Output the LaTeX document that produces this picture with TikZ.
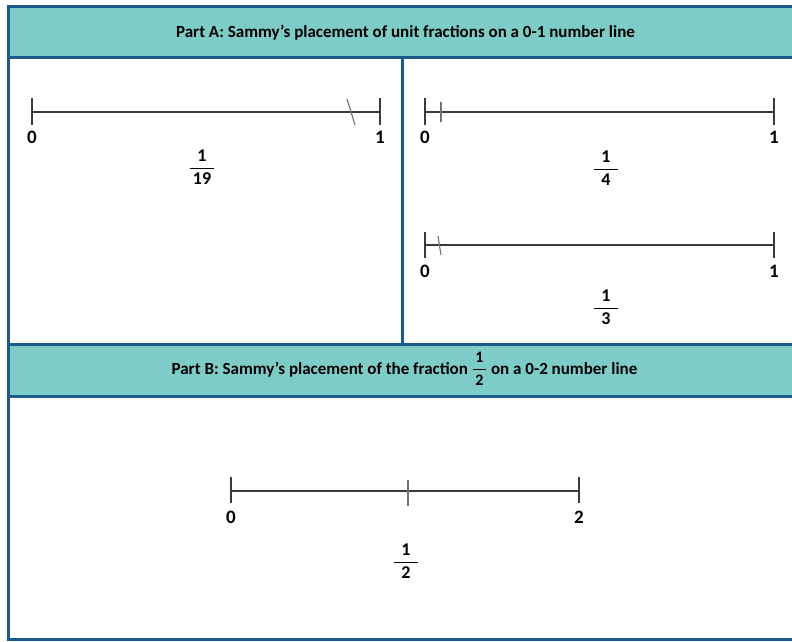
\documentclass[tikz,border=0pt]{standalone}
\usepackage{amsmath}
\usepackage{fontspec}
\setmainfont{Carlito}
\usetikzlibrary{positioning}
\definecolor{headteal}{HTML}{7ECCC7}
\definecolor{frameblue}{HTML}{1D5A8C}
\definecolor{lineink}{HTML}{3A3A3A}
\definecolor{markgray}{HTML}{707070}

% fraction with a fixed bar
\newcommand{\fr}[2]{$\genfrac{}{}{1.1pt}{0}{\makebox[24pt]{#1}}{\makebox[24pt]{#2}}$}
\newcommand{\hfr}[2]{$\genfrac{}{}{1pt}{0}{\makebox[13pt]{#1}}{\makebox[13pt]{#2}}$}

\begin{document}
\begin{tikzpicture}[
  x=1pt, y=-1pt,
  frame/.style={draw=frameblue, line width=3pt},
  header/.style={fill=headteal},
  headtxt/.style={font=\fontsize{17}{20}\selectfont\bfseries, inner sep=0pt, anchor=base},
  nline/.style={draw=lineink, line width=1.1pt},
  slashmark/.style={draw=markgray, line width=1.1pt},
  numlbl/.style={font=\fontsize{19}{22}\selectfont\bfseries, inner sep=0pt},
  fraclbl/.style={font=\fontsize{18}{21}\selectfont\bfseries, inner sep=0pt}
]
  \useasboundingbox (0,0) rectangle (792,641);
  \fill[white] (0,0) rectangle (792,641);

  % Header bars
  \fill[header] (8,6.5) rectangle (812,57);
  \fill[header] (8,344) rectangle (812,396);
  \node[headtxt] (hdra) at (405.5,37) {Part A: Sammy’s placement of unit fractions on a 0-1 number line};
  \node[headtxt] (hdrb) at (404.5,374) {Part B: Sammy’s placement of the fraction {\fontsize{16}{16}\selectfont\hfr{1}{2}} on a 0-2 number line};

  % Frame and dividers
  \draw[frame] (8,57) -- (812,57);
  \draw[frame] (8,344) -- (812,344);
  \draw[frame] (8,396) -- (812,396);
  \draw[frame] (402.5,57) -- (402.5,344);
  \draw[frame] (8,6.5) rectangle (812,639.5);

  % Part A, left: 1/19
  \coordinate (a0) at (32,112);
  \coordinate (a1) at (380,112);
  \coordinate (a19) at (351,112);
  \draw[nline] (a0) -- (a1);
  \draw[nline] ([yshift=14pt]a0) -- ([yshift=-13pt]a0);
  \draw[nline] ([yshift=14pt]a1) -- ([yshift=-13pt]a1);
  \draw[slashmark] ([shift={(-4,-13)}]a19) -- ([shift={(4,13)}]a19);
  \node[numlbl, below=19pt of a0] (a0lbl) {0};
  \node[numlbl, below=19pt of a1] (a1lbl) {1};
  \node[fraclbl] (f19) at (202,167) {\fr{1}{19}};

  % Part A, right top: 1/4
  \coordinate (b0) at (425,112);
  \coordinate (b1) at (774,112);
  \coordinate (b4) at (441,112);
  \draw[nline] (b0) -- (b1);
  \draw[nline] ([yshift=14pt]b0) -- ([yshift=-13pt]b0);
  \draw[nline] ([yshift=14pt]b1) -- ([yshift=-13pt]b1);
  \draw[slashmark] ([yshift=10pt]b4) -- ([yshift=-10pt]b4);
  \node[numlbl, below=19pt of b0] (b0lbl) {0};
  \node[numlbl, below=19pt of b1] (b1lbl) {1};
  \node[fraclbl] (f4) at (606,168) {\fr{1}{4}};

  % Part A, right bottom: 1/3
  \coordinate (c0) at (425,245);
  \coordinate (c1) at (774,245);
  \coordinate (c3) at (439.5,245);
  \draw[nline] (c0) -- (c1);
  \draw[nline] ([yshift=13pt]c0) -- ([yshift=-13pt]c0);
  \draw[nline] ([yshift=13pt]c1) -- ([yshift=-13pt]c1);
  \draw[slashmark] ([shift={(-1.5,-9)}]c3) -- ([shift={(1.5,10)}]c3);
  \node[numlbl, below=20pt of c0] (c0lbl) {0};
  \node[numlbl, below=20pt of c1] (c1lbl) {1};
  \node[fraclbl] (f3) at (606,307) {\fr{1}{3}};

  % Part B: 1/2 on 0-2
  \coordinate (d0) at (231,491);
  \coordinate (d2) at (579,491);
  \coordinate (dh) at (408,491);
  \draw[nline] (d0) -- (d2);
  \draw[nline] ([yshift=14pt]d0) -- ([yshift=-12pt]d0);
  \draw[nline] ([yshift=14pt]d2) -- ([yshift=-12pt]d2);
  \draw[slashmark] ([yshift=11pt]dh) -- ([yshift=-15pt]dh);
  \node[numlbl, below=20pt of d0] (d0lbl) {0};
  \node[numlbl, below=20pt of d2] (d2lbl) {2};
  \node[fraclbl] (f2) at (406,561) {\fr{1}{2}};
\end{tikzpicture}
\end{document}
